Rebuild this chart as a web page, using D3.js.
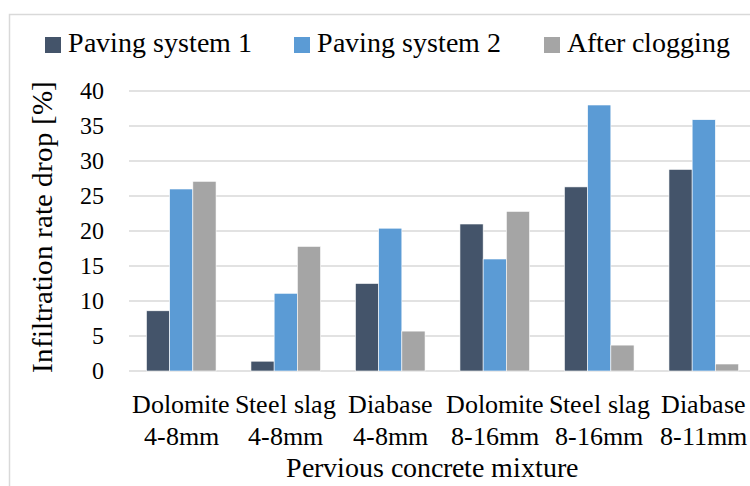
<!DOCTYPE html>
<html>
<head>
<meta charset="utf-8">
<script src="https://cdn.jsdelivr.net/npm/d3@7"></script>
<style>
@font-face {
  font-family: "ChartSerif";
  src: local("Liberation Serif"), local("LiberationSerif"), local("LiberationSerif-Regular"), local("Tinos"), local("Tinos-Regular"), local("Times New Roman");
}
</style>
</head>
<body>
<svg id="chart" width="750" height="486"></svg>
<script>
const categories = [
  ["Dolomite", "4-8mm"],
  ["Steel slag", "4-8mm"],
  ["Diabase", "4-8mm"],
  ["Dolomite", "8-16mm"],
  ["Steel slag", "8-16mm"],
  ["Diabase", "8-11mm"]
];
const seriesNames = ["Paving system 1", "Paving system 2", "After clogging"];
const pavingSystem1 = [8.6, 1.4, 12.5, 21.0, 26.3, 28.8];
const pavingSystem2 = [26.0, 11.1, 20.4, 16.0, 38.0, 35.9];
const afterClogging = [27.1, 17.8, 5.7, 22.8, 3.7, 1.0];
const yTicks = [0, 5, 10, 15, 20, 25, 30, 35, 40];
const colors = ["#44546A", "#5B9BD5", "#A5A5A5"];
const yTitle = "Infiltration rate drop [%]";
const xTitle = "Pervious concrete mixture";

const FONT = "ChartSerif, 'Liberation Serif'";
const seriesValues = [pavingSystem1, pavingSystem2, afterClogging];
d3.select("body").style("margin", "0px");
const svg = d3.select("#chart").style("display", "block");

function setFont(sel) {
  return sel.attr("font-family", FONT).style("font-family", FONT);
}

// fit font size so that a text reaches a target width
function fitSize(sample, target, base) {
  const t = setFont(svg.append("text")).style("font-size", base + "px").text(sample);
  const w = t.node().getComputedTextLength();
  t.remove();
  return Math.round(base * target / w * 10) / 10;
}

function draw() {
  svg.selectAll("*").remove();

  // chart border
  svg.append("rect")
    .attr("x", 9.5).attr("y", 14.5)
    .attr("width", 800).attr("height", 600)
    .attr("fill", "none").attr("stroke", "#d9d9d9").attr("stroke-width", 1.5);

  const x = d3.scaleBand()
    .domain(d3.range(categories.length))
    .range([129, 756])
    .paddingInner(0.334)
    .paddingOuter(0.167);
  const xs = d3.scaleBand()
    .domain(d3.range(seriesNames.length))
    .range([0, x.bandwidth()]);
  const y = d3.scaleLinear().domain([0, 40]).range([371, 91]);

  // gridlines
  svg.append("g").selectAll("line").data(yTicks).join("line")
    .attr("x1", 129).attr("x2", 756)
    .attr("y1", d => y(d)).attr("y2", d => y(d))
    .attr("stroke", "#d9d9d9").attr("stroke-width", 1.5);

  // y tick labels
  const tickSize = fitSize("40", 24, 22);
  setFont(svg.append("g").selectAll("text").data(yTicks).join("text"))
    .attr("x", 104).attr("y", d => y(d))
    .attr("dy", "0.35em")
    .attr("text-anchor", "end")
    .style("font-size", tickSize + "px")
    .attr("fill", "#000")
    .text(d => d);

  // bars
  const groups = svg.append("g").selectAll("g").data(categories).join("g")
    .attr("transform", (d, i) => `translate(${x(i)},0)`);
  groups.selectAll("rect")
    .data((d, i) => seriesValues.map((s, j) => ({ j, v: s[i] })))
    .join("rect")
    .attr("x", d => xs(d.j))
    .attr("width", xs.bandwidth())
    .attr("y", d => y(d.v))
    .attr("height", d => y(0) - y(d.v))
    .attr("fill", d => colors[d.j])
    .attr("stroke", "#ffffff").attr("stroke-width", 0.6);

  // category labels
  const catSize = fitSize("Dolomite", 100, 23);
  const catLabels = setFont(svg.append("g").selectAll("text").data(categories).join("text"))
    .attr("x", (d, i) => x(i) + x.bandwidth() / 2)
    .attr("y", 413)
    .attr("text-anchor", "middle")
    .attr("fill", "#000")
    .style("font-size", catSize + "px");
  catLabels.append("tspan").attr("x", (d, i) => x(i) + x.bandwidth() / 2).text(d => d[0]);
  catLabels.append("tspan").attr("x", (d, i) => x(i) + x.bandwidth() / 2).attr("dy", 32).text(d => d[1]);

  // axis titles
  setFont(svg.append("text"))
    .attr("x", 432).attr("y", 477)
    .attr("text-anchor", "middle")
    .attr("fill", "#000")
    .style("font-size", fitSize(xTitle, 295, 25) + "px")
    .text(xTitle);
  setFont(svg.append("text"))
    .attr("transform", "translate(52,227) rotate(-90)")
    .attr("text-anchor", "middle")
    .attr("fill", "#000")
    .style("font-size", fitSize(yTitle, 287, 25) + "px")
    .text(yTitle);

  // legend
  const legendX = [45, 294, 544];
  const legendW = [190, 191, 168];
  const legend = svg.append("g").selectAll("g").data(seriesNames).join("g")
    .attr("transform", (d, i) => `translate(${legendX[i]},0)`);
  legend.append("rect")
    .attr("x", 0).attr("y", 37).attr("width", 16).attr("height", 16)
    .attr("fill", (d, i) => colors[i]);
  setFont(legend.append("text"))
    .attr("x", 23).attr("y", 52)
    .attr("fill", "#000")
    .style("font-size", (d, i) => fitSize(d, legendW[i], 27) + "px")
    .text(d => d);
}

draw();
if (document.fonts && document.fonts.load) {
  document.fonts.load("20px ChartSerif").then(draw).catch(() => {});
}
</script>
</body>
</html>
